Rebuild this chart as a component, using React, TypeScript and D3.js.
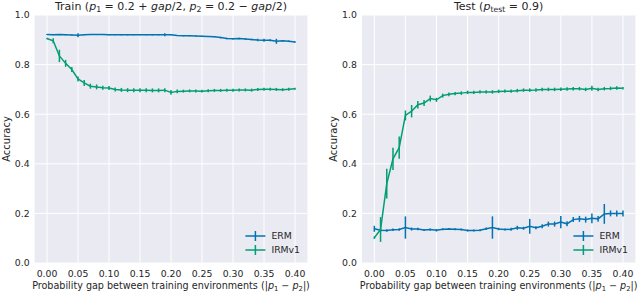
import React from 'react'
import * as d3 from 'd3'

// probability gap (x axis)
const gaps = [
  0.00, 0.01, 0.02, 0.03, 0.04, 0.05, 0.06, 0.07, 0.08, 0.09,
  0.10, 0.11, 0.12, 0.13, 0.14, 0.15, 0.16, 0.17, 0.18, 0.19,
  0.20, 0.21, 0.22, 0.23, 0.24, 0.25, 0.26, 0.27, 0.28, 0.29,
  0.30, 0.31, 0.32, 0.33, 0.34, 0.35, 0.36, 0.37, 0.38, 0.39, 0.40,
]

const trainErm = [
  0.921, 0.920, 0.921, 0.920, 0.919, 0.918, 0.920, 0.921, 0.921, 0.921,
  0.920, 0.920, 0.920, 0.920, 0.920, 0.920, 0.920, 0.920, 0.920, 0.920,
  0.920, 0.917, 0.916, 0.916, 0.915, 0.914, 0.913, 0.912, 0.909, 0.905,
  0.904, 0.905, 0.903, 0.901, 0.899, 0.898, 0.898, 0.894, 0.896, 0.894, 0.891,
]
const trainErmErr = [
  0.002, 0.002, 0.002, 0.002, 0.002, 0.008, 0.002, 0.002, 0.002, 0.002,
  0.002, 0.002, 0.002, 0.002, 0.002, 0.002, 0.002, 0.002, 0.002, 0.006,
  0.002, 0.002, 0.002, 0.002, 0.002, 0.002, 0.002, 0.002, 0.003, 0.003,
  0.003, 0.003, 0.003, 0.003, 0.005, 0.006, 0.004, 0.010, 0.003, 0.003, 0.003,
]
const trainIrm = [
  0.905, 0.896, 0.835, 0.805, 0.780, 0.742, 0.726, 0.713, 0.710, 0.707,
  0.706, 0.700, 0.698, 0.697, 0.697, 0.697, 0.697, 0.696, 0.696, 0.697,
  0.688, 0.692, 0.693, 0.694, 0.694, 0.693, 0.695, 0.696, 0.696, 0.697,
  0.697, 0.698, 0.698, 0.697, 0.700, 0.701, 0.701, 0.700, 0.699, 0.701, 0.703,
]
const trainIrmErr = [
  0.003, 0.010, 0.025, 0.014, 0.010, 0.010, 0.012, 0.010, 0.010, 0.008,
  0.008, 0.008, 0.008, 0.008, 0.008, 0.008, 0.008, 0.008, 0.008, 0.008,
  0.010, 0.008, 0.006, 0.006, 0.006, 0.006, 0.006, 0.006, 0.006, 0.006,
  0.006, 0.006, 0.006, 0.006, 0.006, 0.006, 0.006, 0.006, 0.006, 0.006, 0.004,
]

const testErm = [
  0.138, 0.132, 0.131, 0.134, 0.135, 0.143, 0.137, 0.137, 0.133, 0.135,
  0.132, 0.136, 0.137, 0.136, 0.135, 0.131, 0.131, 0.132, 0.138, 0.143,
  0.137, 0.135, 0.136, 0.142, 0.140, 0.148, 0.142, 0.148, 0.157, 0.157,
  0.165, 0.158, 0.175, 0.178, 0.175, 0.180, 0.178, 0.198, 0.200, 0.200, 0.200,
]
const testErmErr = [
  0.012, 0.006, 0.005, 0.005, 0.005, 0.045, 0.006, 0.005, 0.004, 0.004,
  0.005, 0.004, 0.004, 0.004, 0.004, 0.004, 0.004, 0.004, 0.005, 0.045,
  0.005, 0.004, 0.006, 0.008, 0.006, 0.030, 0.006, 0.008, 0.010, 0.010,
  0.025, 0.010, 0.010, 0.012, 0.012, 0.020, 0.012, 0.040, 0.012, 0.012, 0.012,
]
const testIrm = [
  0.102, 0.135, 0.320, 0.420, 0.465, 0.595, 0.612, 0.638, 0.645, 0.663,
  0.658, 0.675, 0.680, 0.683, 0.685, 0.688, 0.688, 0.690, 0.690, 0.690,
  0.692, 0.693, 0.693, 0.695, 0.697, 0.697, 0.698, 0.700, 0.700, 0.700,
  0.701, 0.702, 0.703, 0.703, 0.700, 0.705, 0.700, 0.703, 0.704, 0.706, 0.705,
]
const testIrmErr = [
  0.005, 0.050, 0.060, 0.045, 0.045, 0.020, 0.025, 0.015, 0.012, 0.012,
  0.008, 0.008, 0.008, 0.007, 0.007, 0.007, 0.007, 0.007, 0.007, 0.007,
  0.007, 0.007, 0.007, 0.007, 0.007, 0.007, 0.007, 0.007, 0.007, 0.007,
  0.007, 0.007, 0.007, 0.007, 0.007, 0.010, 0.007, 0.007, 0.007, 0.007, 0.005,
]

const xTicks = [0, 0.05, 0.1, 0.15, 0.2, 0.25, 0.3, 0.35, 0.4]
const yTicks = [0, 0.2, 0.4, 0.6, 0.8, 1.0]
const seriesNames = ['ERM', 'IRMv1']
const colors = ['#0173B2', '#029E73']

const W = 640
const H = 294
const FONT = 'DejaVu Sans, sans-serif'
const TXT = '#262626'

type Series = { y: number[], err: number[] }

function Panel(props: {
  left: number, right: number, top: number, bottom: number,
  title: React.ReactNode, series: Series[], yLabelX: number,
}) {
  const { left, right, top, bottom, series } = props
  const x = d3.scaleLinear().domain([-0.02, 0.42]).range([left, right])
  const y = d3.scaleLinear().domain([0, 1]).range([bottom, top])
  const line = d3.line<number>()
    .x((_, i) => x(gaps[i]))
    .y(d => y(d))
  const cx = (left + right) / 2
  const cy = (top + bottom) / 2
  const legX = right - 62
  return (
    <g>
      <rect x={left} y={top} width={right - left} height={bottom - top} fill='#EAEAF2' />
      {xTicks.map(t => (
        <line key={'gx' + t} x1={x(t)} x2={x(t)} y1={top} y2={bottom} stroke='#fff' strokeWidth={1} />
      ))}
      {yTicks.map(t => (
        <line key={'gy' + t} x1={left} x2={right} y1={y(t)} y2={y(t)} stroke='#fff' strokeWidth={1} />
      ))}
      {xTicks.map(t => (
        <text key={'tx' + t} x={x(t)} y={bottom + 14} textAnchor='middle' fontSize={9.3} fill={TXT}>
          {t.toFixed(2)}
        </text>
      ))}
      {yTicks.map(t => (
        <text key={'ty' + t} x={left - 5} y={y(t) + 3.3} textAnchor='end' fontSize={9.3} fill={TXT}>
          {t.toFixed(1)}
        </text>
      ))}
      {series.map((s, k) => (
        <g key={'s' + k}>
          <path d={line(s.y) ?? ''} fill='none' stroke={colors[k]} strokeWidth={1.5} />
          {s.y.map((v, i) => (
            <line key={i} x1={x(gaps[i])} x2={x(gaps[i])} y1={y(v - s.err[i])} y2={y(v + s.err[i])}
              stroke={colors[k]} strokeWidth={1.5} />
          ))}
        </g>
      ))}
      {seriesNames.map((n, k) => {
        const ly = bottom - 27 + k * 14
        return (
          <g key={n}>
            <line x1={legX} x2={legX + 20} y1={ly} y2={ly} stroke={colors[k]} strokeWidth={1.5} />
            <line x1={legX + 10} x2={legX + 10} y1={ly - 5} y2={ly + 5} stroke={colors[k]} strokeWidth={1.5} />
            <text x={legX + 26} y={ly + 3.3} fontSize={9.3} fill={TXT}>{n}</text>
          </g>
        )
      })}
      <text x={cx} y={top - 5} textAnchor='middle' fontSize={11} fill={TXT}>{props.title}</text>
      <text x={cx} y={H - 5} textAnchor='middle' fontSize={9.6} fill={TXT}>
        Probability gap between training environments (|<tspan fontStyle='italic'>p</tspan>
        <tspan fontSize={6.8} dy={2}>1</tspan><tspan dy={-2}> − </tspan>
        <tspan fontStyle='italic'>p</tspan><tspan fontSize={6.8} dy={2}>2</tspan><tspan dy={-2}>|)</tspan>
      </text>
      <text transform={`translate(${props.yLabelX},${cy}) rotate(-90)`} textAnchor='middle' fontSize={10} fill={TXT}>
        Accuracy
      </text>
    </g>
  )
}

export default function App() {
  const trainTitle = (
    <>
      Train (<tspan fontStyle='italic'>p</tspan><tspan fontSize={7.8} dy={2}>1</tspan>
      <tspan dy={-2}> = 0.2 + </tspan><tspan fontStyle='italic'>gap</tspan>/2,{' '}
      <tspan fontStyle='italic'>p</tspan><tspan fontSize={7.8} dy={2}>2</tspan>
      <tspan dy={-2}> = 0.2 − </tspan><tspan fontStyle='italic'>gap</tspan>/2)
    </>
  )
  const testTitle = (
    <>
      Test (<tspan fontStyle='italic'>p</tspan><tspan fontSize={7.8} dy={2}>test</tspan>
      <tspan dy={-2}> = 0.9)</tspan>
    </>
  )
  return (
    <svg width={W} height={H} style={{ position: 'absolute', left: 0, top: 0, fontFamily: FONT }}>
      <rect width={W} height={H} fill='#fff' />
      <Panel left={34.6} right={307.4} top={15} bottom={263} title={trainTitle}
        series={[{ y: trainErm, err: trainErmErr }, { y: trainIrm, err: trainIrmErr }]} yLabelX={10} />
      <Panel left={361.9} right={635.4} top={15} bottom={263} title={testTitle}
        series={[{ y: testErm, err: testErmErr }, { y: testIrm, err: testIrmErr }]} yLabelX={337} />
    </svg>
  )
}
